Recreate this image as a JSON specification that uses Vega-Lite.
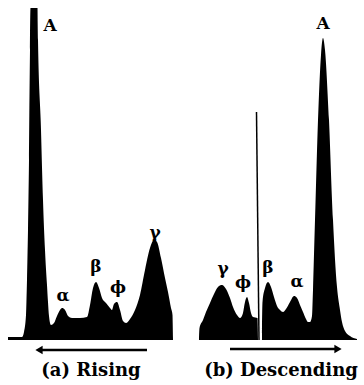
{
  "$schema": "https://vega.github.io/schema/vega-lite/v6.json",
  "width": 364,
  "height": 385,
  "padding": 0,
  "autosize": {"type": "fit", "contains": "padding"},
  "background": "white",
  "config": {"view": {"stroke": null}},
  "datasets": {
    "profile": [
      {"seg": "a", "x": 8, "h": 3}, {"seg": "a", "x": 22, "h": 3}, {"seg": "a", "x": 24, "h": 8},
      {"seg": "a", "x": 26, "h": 25}, {"seg": "a", "x": 27, "h": 60}, {"seg": "a", "x": 28, "h": 110},
      {"seg": "a", "x": 29, "h": 180}, {"seg": "a", "x": 30, "h": 290}, {"seg": "a", "x": 30.5, "h": 332},
      {"seg": "a", "x": 37.5, "h": 332}, {"seg": "a", "x": 38, "h": 300}, {"seg": "a", "x": 41, "h": 210},
      {"seg": "a", "x": 43, "h": 140}, {"seg": "a", "x": 45, "h": 90}, {"seg": "a", "x": 47, "h": 55},
      {"seg": "a", "x": 48, "h": 38}, {"seg": "a", "x": 49, "h": 24}, {"seg": "a", "x": 51, "h": 15},
      {"seg": "a", "x": 54, "h": 17}, {"seg": "a", "x": 57, "h": 24}, {"seg": "a", "x": 60, "h": 30},
      {"seg": "a", "x": 62, "h": 32}, {"seg": "a", "x": 65, "h": 30}, {"seg": "a", "x": 68, "h": 24},
      {"seg": "a", "x": 72, "h": 22}, {"seg": "a", "x": 80, "h": 22}, {"seg": "a", "x": 87, "h": 23},
      {"seg": "a", "x": 90, "h": 35}, {"seg": "a", "x": 93, "h": 52}, {"seg": "a", "x": 96, "h": 58},
      {"seg": "a", "x": 99, "h": 52}, {"seg": "a", "x": 102, "h": 42}, {"seg": "a", "x": 106, "h": 37},
      {"seg": "a", "x": 110, "h": 32}, {"seg": "a", "x": 112, "h": 30}, {"seg": "a", "x": 114, "h": 36},
      {"seg": "a", "x": 117, "h": 38}, {"seg": "a", "x": 120, "h": 30}, {"seg": "a", "x": 123, "h": 19},
      {"seg": "a", "x": 126, "h": 17}, {"seg": "a", "x": 130, "h": 21}, {"seg": "a", "x": 135, "h": 30},
      {"seg": "a", "x": 140, "h": 45}, {"seg": "a", "x": 145, "h": 70}, {"seg": "a", "x": 150, "h": 92},
      {"seg": "a", "x": 154, "h": 100}, {"seg": "a", "x": 157, "h": 98}, {"seg": "a", "x": 161, "h": 82},
      {"seg": "a", "x": 165, "h": 62}, {"seg": "a", "x": 168, "h": 48}, {"seg": "a", "x": 171, "h": 32},
      {"seg": "a", "x": 172.5, "h": 25}, {"seg": "a", "x": 173, "h": 0},

      {"seg": "b1", "x": 199, "h": 0}, {"seg": "b1", "x": 199.5, "h": 12}, {"seg": "b1", "x": 203, "h": 20},
      {"seg": "b1", "x": 206, "h": 28}, {"seg": "b1", "x": 210, "h": 37}, {"seg": "b1", "x": 214, "h": 46},
      {"seg": "b1", "x": 218, "h": 53}, {"seg": "b1", "x": 222, "h": 55}, {"seg": "b1", "x": 226, "h": 51},
      {"seg": "b1", "x": 230, "h": 42}, {"seg": "b1", "x": 233, "h": 33}, {"seg": "b1", "x": 237, "h": 25},
      {"seg": "b1", "x": 240, "h": 22}, {"seg": "b1", "x": 243, "h": 27}, {"seg": "b1", "x": 245, "h": 38},
      {"seg": "b1", "x": 247, "h": 43}, {"seg": "b1", "x": 249, "h": 37}, {"seg": "b1", "x": 251, "h": 27},
      {"seg": "b1", "x": 253, "h": 23}, {"seg": "b1", "x": 257.5, "h": 22}, {"seg": "b1", "x": 258, "h": 0},

      {"seg": "b2", "x": 262, "h": 0}, {"seg": "b2", "x": 262.5, "h": 38}, {"seg": "b2", "x": 265, "h": 52},
      {"seg": "b2", "x": 268, "h": 58}, {"seg": "b2", "x": 271, "h": 53}, {"seg": "b2", "x": 274, "h": 43},
      {"seg": "b2", "x": 277, "h": 34}, {"seg": "b2", "x": 280, "h": 30}, {"seg": "b2", "x": 283, "h": 28},
      {"seg": "b2", "x": 286, "h": 31}, {"seg": "b2", "x": 290, "h": 38}, {"seg": "b2", "x": 294, "h": 44},
      {"seg": "b2", "x": 297, "h": 42}, {"seg": "b2", "x": 300, "h": 35}, {"seg": "b2", "x": 303, "h": 28},
      {"seg": "b2", "x": 306, "h": 21}, {"seg": "b2", "x": 308, "h": 18}, {"seg": "b2", "x": 310, "h": 18},
      {"seg": "b2", "x": 312, "h": 24}, {"seg": "b2", "x": 313, "h": 50}, {"seg": "b2", "x": 315, "h": 120},
      {"seg": "b2", "x": 318, "h": 220}, {"seg": "b2", "x": 321, "h": 285}, {"seg": "b2", "x": 323, "h": 302},
      {"seg": "b2", "x": 325, "h": 290}, {"seg": "b2", "x": 329, "h": 220}, {"seg": "b2", "x": 333, "h": 120},
      {"seg": "b2", "x": 337, "h": 53}, {"seg": "b2", "x": 340, "h": 30}, {"seg": "b2", "x": 342, "h": 18},
      {"seg": "b2", "x": 345, "h": 9}, {"seg": "b2", "x": 350, "h": 4}, {"seg": "b2", "x": 357, "h": 1}
    ],
    "labels": [
      {"x": 50, "h": 314, "t": "A"},
      {"x": 63, "h": 44, "t": "α"},
      {"x": 96, "h": 73, "t": "β"},
      {"x": 118, "h": 52, "t": "ϕ"},
      {"x": 155, "h": 107, "t": "γ"},
      {"x": 323, "h": 316, "t": "A"},
      {"x": 223, "h": 71, "t": "γ"},
      {"x": 243, "h": 57, "t": "ϕ"},
      {"x": 268, "h": 72, "t": "β"},
      {"x": 297, "h": 58, "t": "α"}
    ],
    "marker": [
      {"x": 256.5, "x2": 259, "h": 228, "h2": 0}
    ],
    "arrows": [
      {"x": 40, "x2": 147, "h": -10, "dir": "left", "hx": 39},
      {"x": 230, "x2": 337, "h": -9, "dir": "right", "hx": 338}
    ],
    "captions": [
      {"x": 91, "h": -31, "t": "(a) Rising"},
      {"x": 281, "h": -31, "t": "(b) Descending"}
    ]
  },
  "layer": [
    {
      "data": {"name": "profile"},
      "mark": {"type": "area", "color": "black", "interpolate": "monotone"},
      "encoding": {
        "x": {"field": "x", "type": "quantitative", "scale": {"domain": [0, 364], "nice": false, "zero": false}, "axis": null},
        "y": {"field": "h", "type": "quantitative", "scale": {"domain": [-45, 340], "nice": false, "zero": false}, "axis": null},
        "y2": {"datum": 0},
        "detail": {"field": "seg"}
      }
    },
    {
      "data": {"name": "marker"},
      "mark": {"type": "rule", "color": "black", "strokeWidth": 1.5},
      "encoding": {
        "x": {"field": "x", "type": "quantitative"},
        "x2": {"field": "x2"},
        "y": {"field": "h", "type": "quantitative"},
        "y2": {"field": "h2"}
      }
    },
    {
      "data": {"name": "arrows"},
      "mark": {"type": "rule", "color": "black", "strokeWidth": 2.5},
      "encoding": {
        "x": {"field": "x", "type": "quantitative"},
        "x2": {"field": "x2"},
        "y": {"field": "h", "type": "quantitative"}
      }
    },
    {
      "data": {"name": "arrows"},
      "mark": {"type": "point", "filled": true, "color": "black", "size": 70, "opacity": 1},
      "encoding": {
        "x": {"field": "hx", "type": "quantitative"},
        "y": {"field": "h", "type": "quantitative"},
        "shape": {"field": "dir", "type": "nominal", "scale": {"domain": ["left", "right"], "range": ["triangle-left", "triangle-right"]}, "legend": null}
      }
    },
    {
      "data": {"name": "labels"},
      "mark": {"type": "text", "font": "DejaVu Serif", "fontWeight": "bold", "fontSize": 17, "baseline": "middle", "align": "center", "color": "black"},
      "encoding": {
        "x": {"field": "x", "type": "quantitative"},
        "y": {"field": "h", "type": "quantitative"},
        "text": {"field": "t"}
      }
    },
    {
      "data": {"name": "captions"},
      "mark": {"type": "text", "font": "DejaVu Serif", "fontWeight": "bold", "fontSize": 18, "baseline": "middle", "align": "center", "color": "black"},
      "encoding": {
        "x": {"field": "x", "type": "quantitative"},
        "y": {"field": "h", "type": "quantitative"},
        "text": {"field": "t"}
      }
    }
  ]
}
